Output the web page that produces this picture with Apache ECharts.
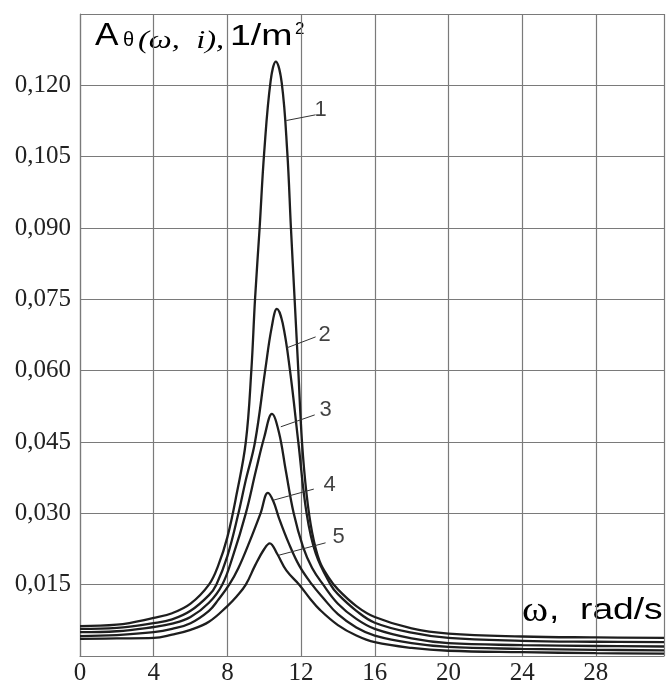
<!DOCTYPE html>
<html><head><meta charset="utf-8">
<script src="https://cdn.jsdelivr.net/npm/echarts@6/dist/echarts.min.js"></script>
<style>html,body{margin:0;padding:0;background:#fff}#c{width:667px;height:688px}</style>
</head><body><div id="c"></div>
<script>
// ---- data ----
const xTicks = [0, 4, 8, 12, 16, 20, 24, 28];
const yTicks = [0.015, 0.030, 0.045, 0.060, 0.075, 0.090, 0.105, 0.120];

const omega1 = [0, 2, 4, 5, 6, 7, 7.5, 8, 8.5, 9, 9.3, 9.5, 9.75, 10, 10.35, 10.63, 10.95, 11.25, 11.45, 11.65, 11.85, 12.05, 12.3, 12.6, 13, 13.5, 14, 15, 16, 18, 20, 24, 28, 31.7];
const A1 = [0.0063, 0.0066, 0.0080, 0.0090, 0.0110, 0.0150, 0.0190, 0.0250, 0.0340, 0.0450, 0.0600, 0.0750, 0.0900, 0.1060, 0.1210, 0.1250, 0.1205, 0.1060, 0.0900, 0.0750, 0.0600, 0.0450, 0.0340, 0.0260, 0.0200, 0.0165, 0.0140, 0.0105, 0.0082, 0.0058, 0.0047, 0.0041, 0.0039, 0.0038];

const omega2 = [0, 2, 4, 5, 6, 7, 7.4, 8, 8.6, 9, 9.5, 10.05, 10.4, 10.69, 11, 11.4, 11.85, 12.3, 12.8, 13.6, 14, 15, 16, 18, 20, 24, 28, 31.7];
const A2 = [0.0057, 0.0059, 0.0069, 0.0077, 0.0095, 0.0128, 0.0150, 0.0210, 0.0300, 0.0370, 0.0450, 0.0600, 0.0690, 0.0730, 0.0700, 0.0600, 0.0450, 0.0300, 0.0215, 0.0150, 0.0130, 0.0095, 0.0070, 0.0049, 0.0038, 0.0032, 0.0030, 0.0029];

const omega3 = [0, 2, 4, 5, 6, 7, 7.72, 8.3, 9, 9.55, 10, 10.42, 10.8, 11.17, 11.6, 12.1, 12.6, 13.2, 14, 15, 16, 18, 20, 24, 28, 31.7];
const A3 = [0.0050, 0.0052, 0.0061, 0.0068, 0.0082, 0.0112, 0.0150, 0.0210, 0.0300, 0.0390, 0.0460, 0.0509, 0.0470, 0.0390, 0.0300, 0.0230, 0.0185, 0.0150, 0.0110, 0.0078, 0.0057, 0.0037, 0.0027, 0.0023, 0.0021, 0.0020];

const omega4 = [0, 2, 4, 5, 6, 7, 7.5, 8.1, 8.6, 9.2, 9.8, 10.2, 10.5, 10.8, 11.3, 11.9, 12.6, 13.2, 14, 15, 16, 18, 20, 24, 28, 31.7];
const A4 = [0.0042, 0.0044, 0.0050, 0.0057, 0.0069, 0.0095, 0.0118, 0.0150, 0.0185, 0.0240, 0.0300, 0.0343, 0.0325, 0.0290, 0.0240, 0.0190, 0.0150, 0.0122, 0.0088, 0.0060, 0.0043, 0.0027, 0.0019, 0.0015, 0.0013, 0.0012];

const omega5 = [0, 2, 4, 5, 6, 7, 8, 8.5, 9, 9.5, 10, 10.3, 10.7, 11.2, 11.9, 12.5, 13, 14, 15, 16, 18, 20, 24, 28, 31.7];
const A5 = [0.0036, 0.0037, 0.0038, 0.0045, 0.0055, 0.0072, 0.0105, 0.0125, 0.0150, 0.0190, 0.0225, 0.0237, 0.0215, 0.0180, 0.0150, 0.0120, 0.0098, 0.0065, 0.0043, 0.0029, 0.0017, 0.0011, 0.0008, 0.0006, 0.0005];

// curve number labels and their leader lines (data coordinates)
const curveNames = ['1', '2', '3', '4', '5'];
const labelPos = [[13.06, 0.1149], [13.28, 0.0675], [13.33, 0.0518], [13.55, 0.0360], [14.04, 0.0250]];
const leaderFrom = [[11.2, 0.1126], [11.23, 0.0648], [10.9, 0.0482], [10.53, 0.0328], [10.8, 0.0212]];
const leaderTo = [[12.79, 0.1138], [12.79, 0.0671], [12.74, 0.0507], [12.69, 0.0351], [13.33, 0.0238]];

// ---- chart ----
const omegas = [omega1, omega2, omega3, omega4, omega5];
const amps = [A1, A2, A3, A4, A5];
const zip = (xs, ys) => xs.map((x, i) => [x, ys[i]]);

const lineColor = '#1e1e1e';
const gridColor = '#7a7a7a';

const series = amps.map((a, k) => ({
  type: 'line', name: curveNames[k], data: zip(omegas[k], a),
  smooth: 0.4, showSymbol: false, symbol: 'none',
  lineStyle: { color: lineColor, width: 2.3 }, z: 3, silent: true
}));

series.push({
  type: 'lines', coordinateSystem: 'cartesian2d', silent: true, z: 4,
  lineStyle: { color: '#333', width: 1, opacity: 1 },
  data: leaderFrom.map((f, i) => ({ coords: [f, leaderTo[i]] }))
});

series.push({
  type: 'scatter', symbolSize: 0, silent: true, z: 5,
  data: labelPos.map((p, i) => ({ value: p, name: curveNames[i] })),
  label: { show: true, position: 'inside', formatter: p => p.name,
    fontFamily: 'Liberation Sans, Arial, sans-serif', fontSize: 22, color: '#111' }
});

const chart = echarts.init(document.getElementById('c'), null, { renderer: 'canvas' });
chart.setOption({
  animation: false,
  backgroundColor: '#fff',
  grid: { left: 80, right: 0, top: 14, bottom: 32, containLabel: false },
  xAxis: {
    type: 'value', min: 0, max: 31.7, interval: 4,
    axisLine: { show: true, lineStyle: { color: gridColor, width: 1.2 } },
    axisTick: { show: false },
    splitLine: { show: true, lineStyle: { color: gridColor, width: 1.2 } },
    axisLabel: {
      color: '#222', fontFamily: 'Liberation Serif, Times New Roman, serif', fontSize: 25, margin: 5,
      formatter: v => (xTicks.indexOf(Math.round(v * 1000) / 1000) >= 0 ? String(v) : '')
    }
  },
  yAxis: {
    type: 'value', min: 0, max: 0.135, interval: 0.015,
    axisLine: { show: true, lineStyle: { color: gridColor, width: 1.2 } },
    axisTick: { show: false },
    splitLine: { show: true, lineStyle: { color: gridColor, width: 1.2 } },
    axisLabel: {
      color: '#222', fontFamily: 'Liberation Serif, Times New Roman, serif', fontSize: 25, margin: 9,
      formatter: v => {
        const r = Math.round(v * 1000) / 1000;
        return yTicks.some(t => Math.abs(t - r) < 1e-6) ? r.toFixed(3).replace('.', ',') : '';
      }
    }
  },
  graphic: [
    { type: 'text', x: 95, y: 20, scaleX: 1.1, style: { text: 'A', font: '32px "Liberation Sans", Arial, sans-serif', fill: '#000' } },
    { type: 'text', x: 123, y: 30, style: { text: 'θ', font: '20px "Liberation Sans", Arial, sans-serif', fill: '#000' } },
    { type: 'text', x: 138, y: 29, scaleX: 1.3, style: { text: '(ω,  i),', font: 'italic 25px "Liberation Serif", "Times New Roman", serif', fill: '#000' } },
    { type: 'text', x: 230, y: 22, scaleX: 1.25, style: { text: '1/m', font: '30px "Liberation Sans", Arial, sans-serif', fill: '#000' } },
    { type: 'text', x: 295, y: 21, style: { text: '2', font: '17px "Liberation Sans", Arial, sans-serif', fill: '#000' } },
    { type: 'text', x: 522, y: 594, scaleX: 1.1, style: { text: 'ω', font: '36px "Liberation Serif", "Times New Roman", serif', fill: '#000' } },
    { type: 'text', x: 549, y: 596, scaleX: 1.24, style: { text: ',  rad/s', font: '30px "Liberation Sans", Arial, sans-serif', fill: '#000' } }
  ],
  series: series
});
</script>
</body></html>
